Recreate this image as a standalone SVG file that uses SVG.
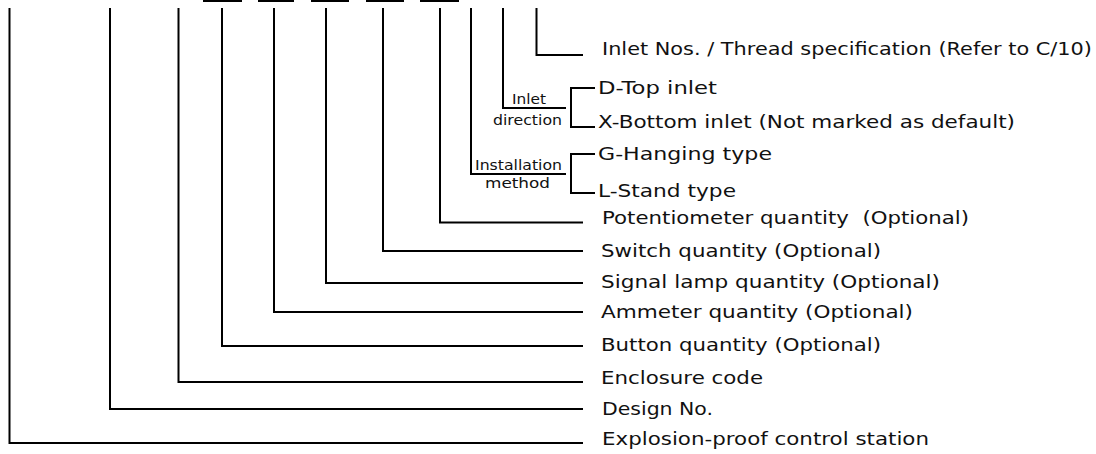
<svg xmlns="http://www.w3.org/2000/svg" width="1096" height="454" viewBox="0 0 1096 454">
<style>
.ln{fill:none;stroke:#000;stroke-width:2;stroke-linejoin:miter;stroke-linecap:butt}
.lb{font-family:"DejaVu Sans","Liberation Sans",sans-serif;font-size:18.5px;fill:#111;white-space:pre}
.sm{font-family:"DejaVu Sans","Liberation Sans",sans-serif;font-size:14px;fill:#111}
</style>
<rect width="1096" height="454" fill="#fff"/>
<g id="code-slots">
<line class="ln" x1="203" y1="1" x2="242" y2="1"/>
<line class="ln" x1="258" y1="1" x2="294" y2="1"/>
<line class="ln" x1="311" y1="1" x2="349" y2="1"/>
<line class="ln" x1="366" y1="1" x2="404" y2="1"/>
<line class="ln" x1="420" y1="1" x2="459" y2="1"/>
</g>
<g id="connectors">
<path class="ln" d="M9.5 8V443H583"/>
<path class="ln" d="M110 8V409H583"/>
<path class="ln" d="M178.5 8V382H583"/>
<path class="ln" d="M222 8V346H583"/>
<path class="ln" d="M274 8V312H583"/>
<path class="ln" d="M326 8V283H583"/>
<path class="ln" d="M383 8V251H583"/>
<path class="ln" d="M440 8V222.5H583"/>
<path class="ln" d="M471 8V174H566"/>
<path class="ln" d="M503 8V108H566"/>
<path class="ln" d="M536.5 8V55H583"/>
<path class="ln" d="M595 88H571V127H595"/>
<path class="ln" d="M595 154H571V193H595"/>
</g>
<g id="inlet-nos"><text class="lb" x="602" y="55" textLength="490" lengthAdjust="spacingAndGlyphs">Inlet Nos. / Thread specification (Refer to C/10)</text></g>
<g id="inlet-direction">
<text class="sm" x="512" y="104" textLength="34" lengthAdjust="spacingAndGlyphs">Inlet</text>
<text class="sm" x="493" y="125" textLength="69" lengthAdjust="spacingAndGlyphs">direction</text>
</g>
<g id="d-top"><text class="lb" x="598" y="94" textLength="119" lengthAdjust="spacingAndGlyphs">D-Top inlet</text></g>
<g id="x-bottom"><text class="lb" x="598" y="128" textLength="417" lengthAdjust="spacingAndGlyphs">X-Bottom inlet (Not marked as default)</text></g>
<g id="installation-method">
<text class="sm" x="475" y="169.5" textLength="87" lengthAdjust="spacingAndGlyphs">Installation</text>
<text class="sm" x="485" y="188" textLength="65" lengthAdjust="spacingAndGlyphs">method</text>
</g>
<g id="g-hanging"><text class="lb" x="598" y="160" textLength="174" lengthAdjust="spacingAndGlyphs">G-Hanging type</text></g>
<g id="l-stand"><text class="lb" x="598" y="197" textLength="138" lengthAdjust="spacingAndGlyphs">L-Stand type</text></g>
<g id="potentiometer"><text class="lb" x="602" y="224" textLength="367" lengthAdjust="spacingAndGlyphs">Potentiometer quantity  (Optional)</text></g>
<g id="switch"><text class="lb" x="601" y="257" textLength="280" lengthAdjust="spacingAndGlyphs">Switch quantity (Optional)</text></g>
<g id="signal-lamp"><text class="lb" x="601" y="288" textLength="339" lengthAdjust="spacingAndGlyphs">Signal lamp quantity (Optional)</text></g>
<g id="ammeter"><text class="lb" x="601" y="318" textLength="312" lengthAdjust="spacingAndGlyphs">Ammeter quantity (Optional)</text></g>
<g id="button"><text class="lb" x="601" y="351" textLength="280" lengthAdjust="spacingAndGlyphs">Button quantity (Optional)</text></g>
<g id="enclosure"><text class="lb" x="601" y="384" textLength="162" lengthAdjust="spacingAndGlyphs">Enclosure code</text></g>
<g id="design"><text class="lb" x="602" y="415" textLength="111" lengthAdjust="spacingAndGlyphs">Design No.</text></g>
<g id="explosion"><text class="lb" x="602" y="445" textLength="327" lengthAdjust="spacingAndGlyphs">Explosion-proof control station</text></g>
</svg>
